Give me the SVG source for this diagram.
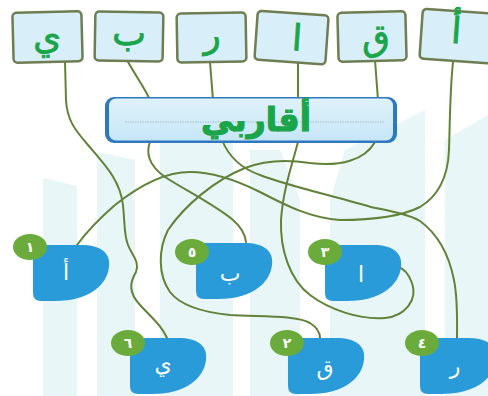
<svg xmlns="http://www.w3.org/2000/svg" width="488" height="396" viewBox="0 0 488 396">
<defs>
<style>
.wm{fill:#e8f6f8}
.box{fill:#d8eef9;stroke:#6e7d52;stroke-width:2.5}
.boxt{font-family:"DejaVu Sans",sans-serif;font-size:36px;fill:#1ba54a;stroke:#1ba54a;stroke-width:0.8;text-anchor:middle}
.ln{fill:none;stroke:#62823a;stroke-width:2;stroke-linecap:round}
.blob{fill:#2a9bd9}
.badge{fill:#6aab3b}
.num{font-family:"DejaVu Sans",sans-serif;font-size:14px;font-weight:bold;fill:#ffffff;text-anchor:middle}
.bl{font-family:"DejaVu Sans",sans-serif;font-size:22px;fill:#ffffff;text-anchor:middle}
</style>
<linearGradient id="tg" x1="0" y1="0" x2="0" y2="1">
<stop offset="0" stop-color="#dff2fb"/>
<stop offset="1" stop-color="#c6e6f6"/>
</linearGradient>
<path id="blobshape" d="M0,6 Q0,0 6,0 L48,0 C68,0 78,8 76,22 C74,40 56,56 22,56 L8,56 Q0,56 0,48 Z"/>
</defs>
<rect width="488" height="396" fill="#ffffff"/>
<g id="watermark">
<polygon class="wm" points="43,178 77,186 77,396 43,396"/>
<polygon class="wm" points="97,152 135,160 135,396 97,396"/>
<polygon class="wm" points="160,140 233,140 233,396 160,396"/>
<polygon class="wm" points="250,150 280,150 300,200 300,396 250,396"/>
<polygon class="wm" points="345,150 425,110 425,396 330,396 330,200"/>
<polygon class="wm" points="445,140 488,115 488,396 445,396"/>
</g>
<g id="connectors">
<path class="ln" d="M65,62 L66,100 C67,120 75,130 88,145 C105,165 120,180 123,205 C125,225 124,235 128,245 C132,255 140,262 136,272 C130,282 128,292 140,305 C152,318 162,326 167,338"/>
<path class="ln" d="M127,60 C135,75 145,88 150,100 L150,142 C146,152 148,165 165,177 C185,190 215,205 233,220 C241,227 245,233 246,242"/>
<path class="ln" d="M210,62 L213,100 L222,140 C228,155 240,168 260,175 C285,185 330,195 371,207 C390,211 408,214 420,221 C435,232 448,250 454,280 C458,300 457,320 457,340"/>
<path class="ln" d="M298,62 L298,142 C292,165 283,190 281,220 C280,250 290,280 310,295 C330,310 360,320 385,318 C405,316 418,300 412,283 C408,272 402,268 398,267"/>
<path class="ln" d="M375,60 L378,100 L375,142 C365,160 340,167 310,163 C285,159 265,160 245,168 C215,180 185,205 168,230 C158,250 158,275 170,292 C180,305 200,312 230,315 C260,317 295,315 310,323 C318,328 320,333 320,338"/>
<path class="ln" d="M453,62 C450,90 450,120 449,150 C448,175 440,195 420,207 C400,217 370,220 340,220 C310,218 285,205 260,192 C240,182 215,172 190,172 C165,172 140,185 115,205 C100,218 88,230 77,245"/>
</g>
<g id="box-ya" transform="rotate(-1.5 47 37)">
<rect class="box" x="13" y="12" width="69" height="50" rx="4"/>
<text class="boxt" x="47" y="49">ي</text>
</g>
<g id="box-ba" transform="rotate(1 129 36)">
<rect class="box" x="95" y="12" width="68" height="49" rx="4"/>
<text class="boxt" x="129" y="45">ب</text>
</g>
<g id="box-ra" transform="rotate(-1 212 37)">
<rect class="box" x="177" y="13" width="69" height="49" rx="4"/>
<text class="boxt" x="212" y="47">ر</text>
</g>
<g id="box-alif" transform="rotate(4 291 38)">
<rect class="box" x="256" y="13" width="71" height="49" rx="4"/>
<text class="boxt" x="297" y="50">ا</text>
</g>
<g id="box-qaf" transform="rotate(-1.5 372 37)">
<rect class="box" x="338" y="12" width="68" height="49" rx="4"/>
<text class="boxt" x="376" y="50">ق</text>
</g>
<g id="box-hamza" transform="rotate(4 455 37)">
<rect class="box" x="421" y="11" width="72" height="50" rx="4"/>
<text class="boxt" x="456" y="43">أ</text>
</g>
<g id="title">
<rect x="105" y="97" width="292" height="46" rx="9" fill="#2f78bd"/>
<rect x="109" y="98.5" width="284" height="42" rx="7" fill="url(#tg)"/>
<line x1="125" y1="122" x2="385" y2="122" stroke="#a9bfcb" stroke-width="1" stroke-dasharray="1.5 1"/>
<text x="256" y="131" font-family="DejaVu Sans, sans-serif" font-size="33" font-weight="bold" fill="#1ba54a" stroke="#1ba54a" stroke-width="1.2" text-anchor="middle">أقاربي</text>
</g>
<g id="blob-1">
<use href="#blobshape" class="blob" transform="translate(33 245)"/>
<ellipse class="badge" cx="30" cy="247" rx="17" ry="13"/>
<text class="num" x="30" y="252">١</text>
<text class="bl" x="66" y="280">أ</text>
</g>
<g id="blob-5">
<use href="#blobshape" class="blob" transform="translate(196 243)"/>
<ellipse class="badge" cx="192" cy="252" rx="17" ry="13"/>
<text class="num" x="192" y="257">٥</text>
<text class="bl" x="230" y="281">ب</text>
</g>
<g id="blob-3">
<use href="#blobshape" class="blob" transform="translate(325 245)"/>
<ellipse class="badge" cx="325" cy="252" rx="17" ry="13"/>
<text class="num" x="325" y="257">٣</text>
<text class="bl" x="361" y="282">ا</text>
</g>
<g id="blob-6">
<use href="#blobshape" class="blob" transform="translate(130 338)"/>
<ellipse class="badge" cx="128" cy="343" rx="17" ry="13"/>
<text class="num" x="128" y="348">٦</text>
<text class="bl" x="163" y="372">ي</text>
</g>
<g id="blob-2">
<use href="#blobshape" class="blob" transform="translate(288 338)"/>
<ellipse class="badge" cx="287" cy="343" rx="17" ry="13"/>
<text class="num" x="287" y="348">٢</text>
<text class="bl" x="325" y="375">ق</text>
</g>
<g id="blob-4">
<use href="#blobshape" class="blob" transform="translate(420 338)"/>
<ellipse class="badge" cx="422" cy="343" rx="17" ry="13"/>
<text class="num" x="422" y="348">٤</text>
<text class="bl" x="455" y="374">ر</text>
</g>
</svg>
